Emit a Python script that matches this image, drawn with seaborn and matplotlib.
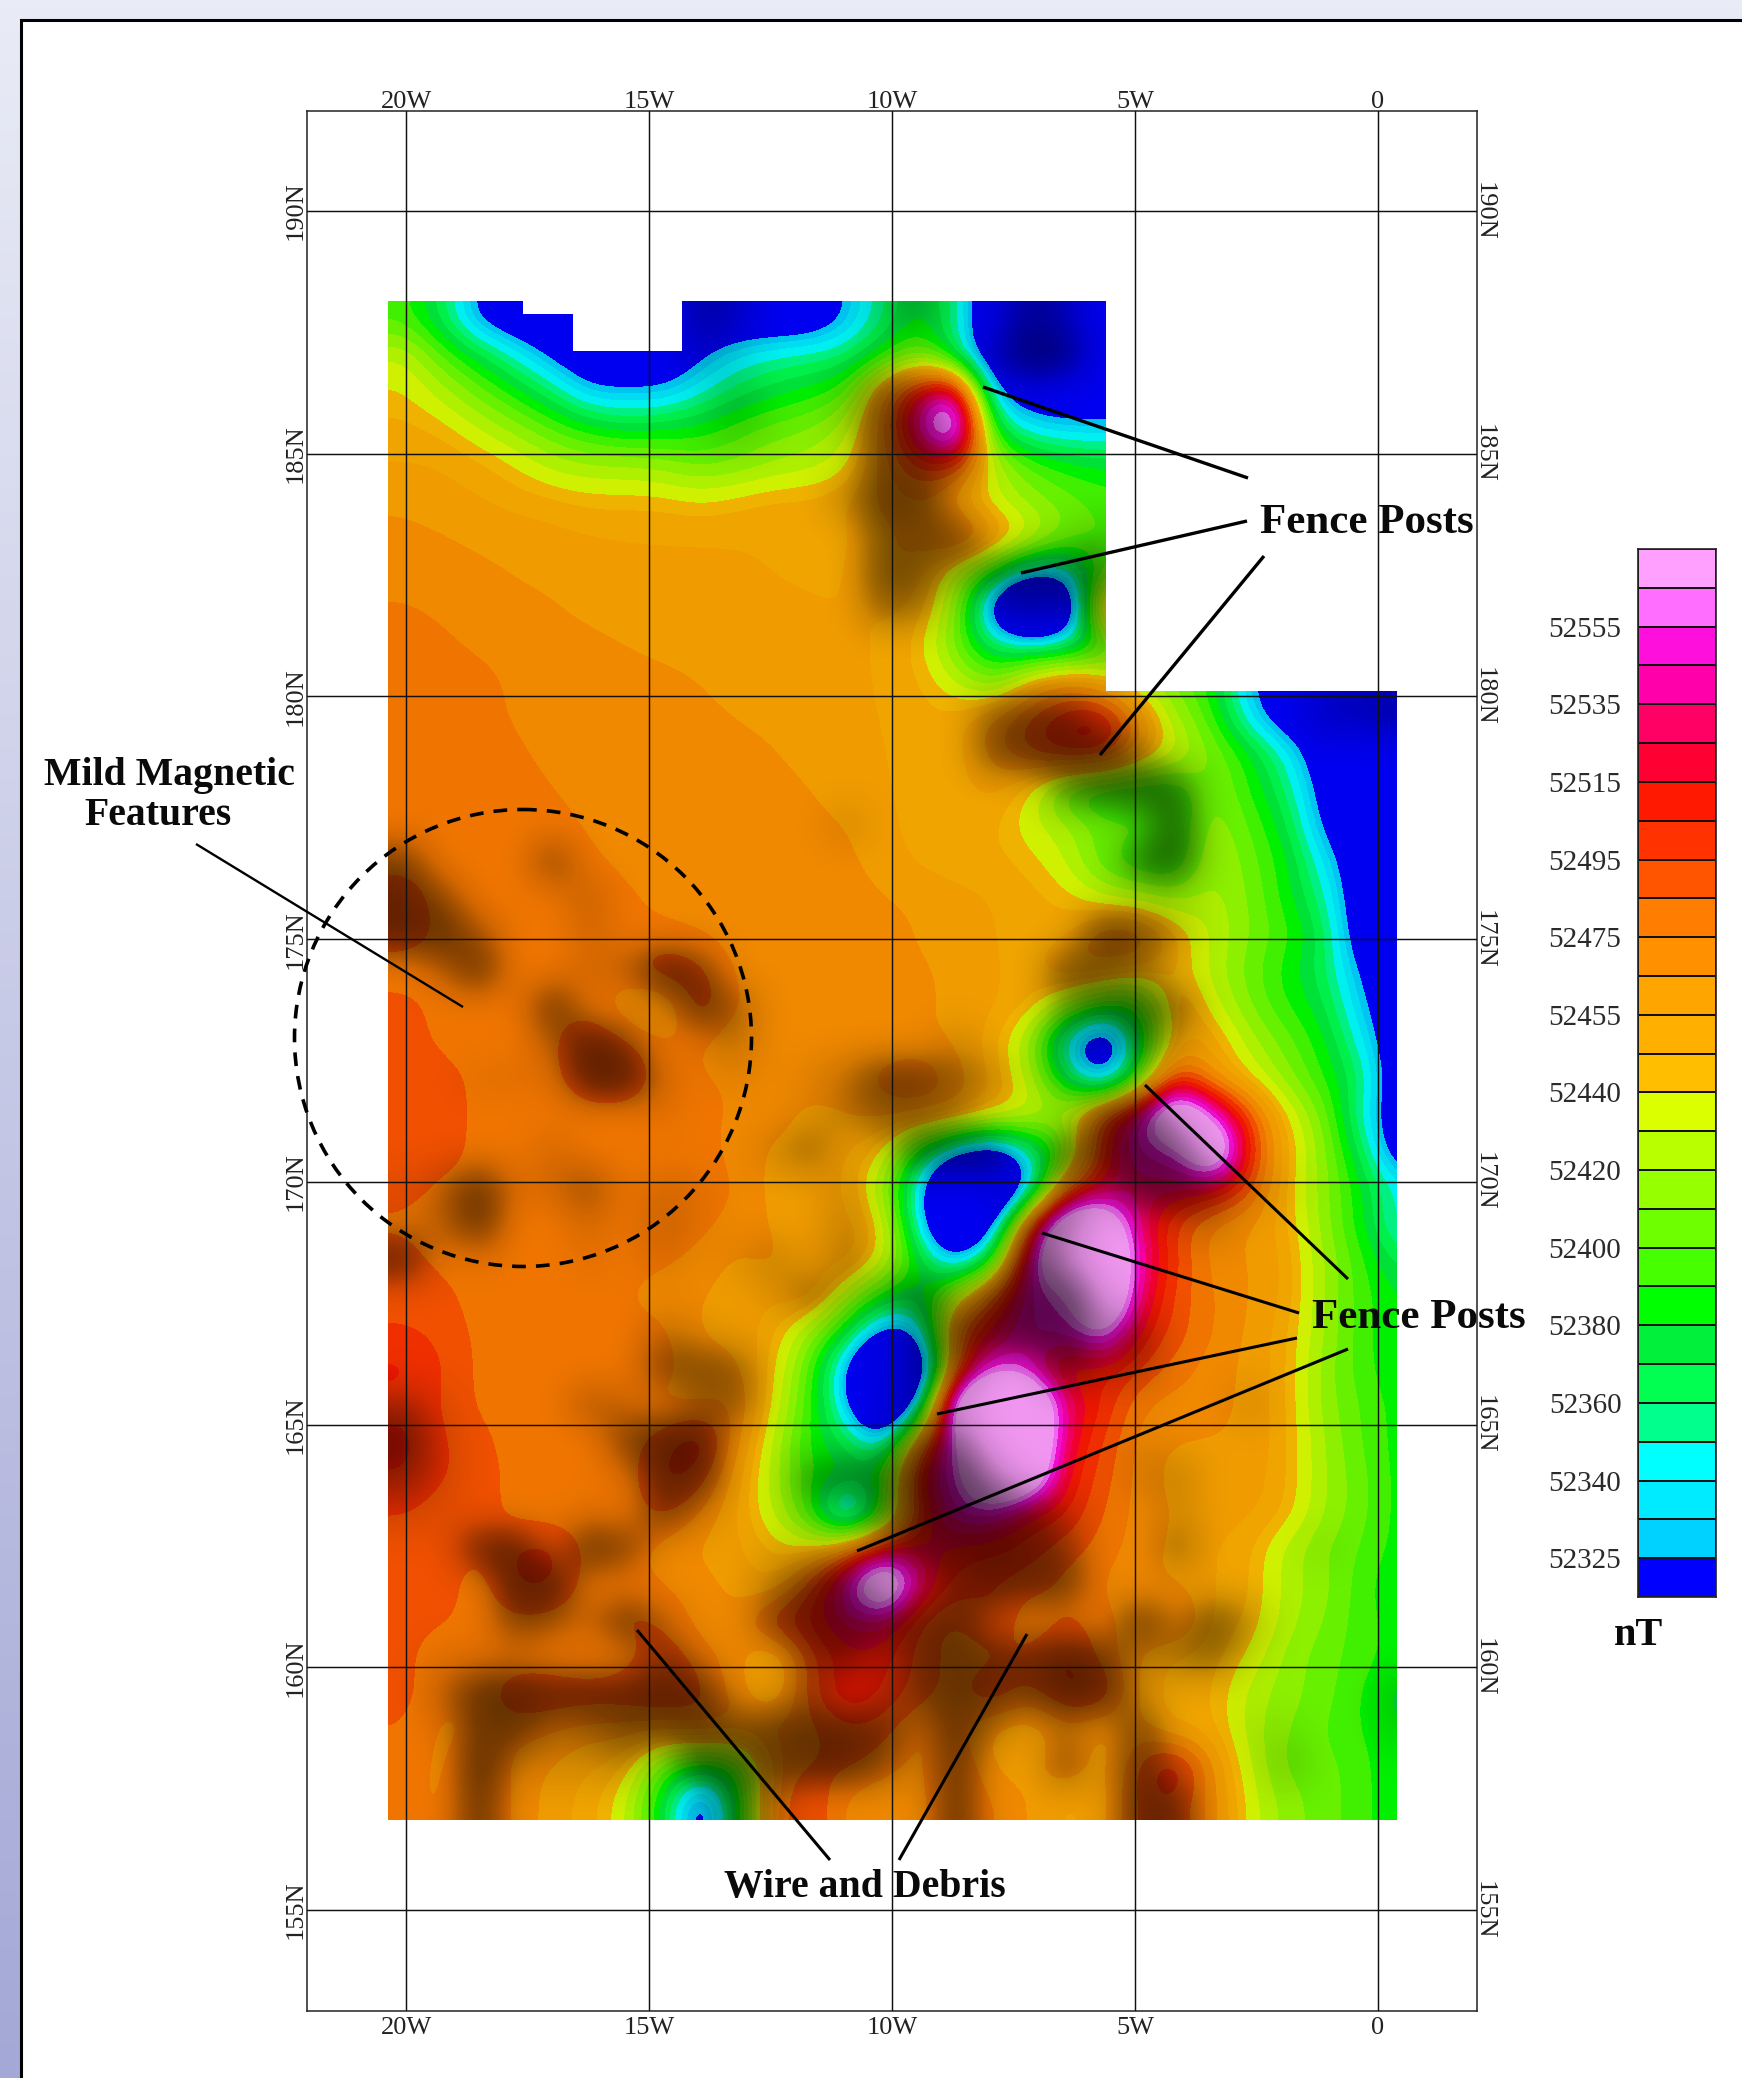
import numpy as np
import matplotlib
matplotlib.use('Agg')
import matplotlib.pyplot as plt
from matplotlib.colors import BoundaryNorm, LinearSegmentedColormap, ListedColormap
from matplotlib.patches import Circle, Polygon, Rectangle
from matplotlib.transforms import ScaledTranslation
import seaborn as sns

# legend bands, bottom to top
band_colors = ['#0000ff', '#00d2ff', '#00ebff', '#00ffff', '#00ff8c', '#00ff50', '#00f03c', '#00ff00',
               '#46ff00', '#6eff00', '#96ff00', '#b9ff00', '#dcff00', '#ffbe00', '#ffaf00', '#ffa500',
               '#ff9100', '#ff7d00', '#ff5500', '#ff3200', '#ff1900', '#ff0032', '#ff0064', '#ff00aa',
               '#ff0fdc', '#ff6eff', '#ffa0ff']
band_edges = [52325, 52332, 52340, 52350, 52360, 52370, 52380, 52390, 52400, 52410, 52420, 52430, 52440,
              52447, 52455, 52465, 52475, 52485, 52495, 52505, 52515, 52525, 52535, 52545, 52555, 52565]
legend_ticks = [52325, 52340, 52360, 52380, 52400, 52420, 52440, 52455, 52475, 52495, 52515, 52535, 52555]

# grid labels
east_ticks = [-20, -15, -10, -5, 0]
east_labels = ['20W', '15W', '10W', '5W', '0']
north_ticks = [190, 185, 180, 175, 170, 165, 160, 155]
north_labels = ['190N', '185N', '180N', '175N', '170N', '165N', '160N', '155N']

# total field, nT above 52000, north row first
NT_BASE = 52000
nt_rows = [
    [395,365,315,300,300,300,300,300,300,300,300,300,325,360,385,360,280,300,300,300,300,300,300,300,300,300,300,300],
    [432,400,375,345,315,300,300,300,320,340,350,355,360,385,410,360,280,290,300,300,300,300,300,300,300,300,300,300],
    [441,425,405,385,360,325,325,325,345,365,375,385,395,470,520,560,315,305,300,300,300,300,300,300,300,300,300,300],
    [450,445,430,415,400,385,375,380,385,395,405,410,425,470,550,620,375,335,330,330,330,330,330,330,330,330,330,330],
    [455,455,450,440,425,420,420,415,405,410,420,425,435,470,500,500,430,400,385,380,380,380,380,380,380,380,380,380],
    [463,458,456,452,450,445,445,445,440,445,450,450,455,470,475,455,430,415,405,395,395,395,395,395,395,395,395,395],
    [468,466,462,460,458,456,455,455,455,455,454,453,453,460,470,495,470,440,410,400,400,400,400,400,400,400,400,400],
    [472,470,468,464,462,460,458,457,457,456,455,454,453,470,460,425,390,340,340,400,400,400,400,400,400,400,400,400],
    [476,474,472,469,466,462,460,459,458,457,456,456,455,455,455,420,300,200,260,490,490,490,490,490,490,490,490,490],
    [478,476,474,472,470,468,465,463,462,460,458,457,456,455,445,405,360,350,355,385,425,405,385,340,300,300,300,300],
    [480,478,477,474,472,470,468,467,465,462,460,458,456,455,448,430,405,450,470,450,420,405,385,325,300,300,300,300],
    [482,480,477,474,472,470,469,468,467,465,463,460,457,455,450,450,470,490,505,515,470,420,395,335,300,300,300,300],
    [482,481,480,476,473,471,470,469,468,467,466,462,458,456,450,450,470,490,510,510,460,435,410,385,345,300,300,300],
    [482,481,480,478,475,472,471,470,469,468,467,466,460,456,452,450,460,440,390,375,380,385,415,390,360,310,300,300],
    [482,482,481,480,478,474,472,471,470,469,468,467,466,458,450,448,450,432,425,405,410,385,420,400,375,315,300,300],
    [482,481,480,480,480,476,474,472,471,470,469,468,467,462,452,450,450,445,430,400,385,385,425,405,385,340,300,300],
    [490,481,480,480,480,478,476,473,472,470,470,469,468,466,464,458,455,450,445,430,425,415,425,410,385,355,300,300],
    [492,482,480,480,480,480,478,476,474,471,470,469,468,467,465,460,455,452,450,480,480,450,430,410,395,370,300,300],
    [478,481,480,480,480,480,482,498,490,472,470,469,468,467,466,464,456,450,470,465,455,448,425,405,385,365,320,300],
    [490,480,480,480,482,480,465,455,498,474,471,470,468,467,466,464,456,450,420,390,385,465,435,410,390,375,330,300],
    [490,482,480,480,482,498,488,476,476,465,471,470,468,467,466,464,450,420,335,270,375,455,455,425,405,385,345,300],
    [492,490,482,480,480,498,498,478,476,474,470,468,470,480,490,470,455,430,370,310,395,505,460,440,415,390,365,300],
    [490,490,482,480,478,478,478,478,478,474,468,462,465,470,470,465,450,435,425,500,550,640,560,490,440,410,350,300],
    [490,490,482,480,480,480,478,478,478,472,462,465,455,445,380,330,300,350,395,510,550,550,640,500,450,415,370,300],
    [490,482,482,480,482,482,478,482,482,476,460,458,458,420,335,230,230,320,480,520,530,530,520,490,445,415,385,345],
    [482,480,482,480,478,480,478,488,480,470,465,455,460,445,340,230,310,500,620,610,530,490,470,465,450,415,385,340],
    [490,480,480,478,478,478,477,478,470,462,470,455,465,440,380,320,380,550,640,640,540,495,470,465,455,420,395,365],
    [492,490,478,478,476,476,476,470,465,462,455,470,425,385,370,430,490,550,550,640,530,490,475,465,455,420,395,380],
    [495,492,482,478,476,476,476,480,462,462,450,420,380,310,330,490,520,550,550,580,510,490,475,463,450,420,395,380],
    [510,495,482,478,476,475,476,480,470,470,445,400,320,230,260,490,560,540,495,510,495,480,470,462,450,415,395,380],
    [500,495,482,478,476,478,478,472,470,480,440,395,330,230,330,620,640,640,530,505,475,470,470,462,450,415,400,385],
    [510,495,490,478,476,478,480,490,510,470,430,385,370,330,470,570,640,640,520,495,470,465,465,462,450,420,400,385],
    [505,495,492,480,478,478,478,500,495,460,425,390,385,385,530,550,640,620,510,490,470,460,460,460,450,420,405,385],
    [495,490,490,480,478,478,478,490,475,455,430,395,300,380,500,550,550,510,505,485,470,465,458,458,448,420,405,385],
    [490,490,485,498,500,480,480,470,462,458,445,440,470,520,520,510,505,500,490,480,470,462,455,450,425,410,400,385],
    [490,490,478,498,498,478,478,475,470,462,450,490,550,640,530,500,495,490,480,475,465,465,455,450,425,415,395,380],
    [490,488,480,482,480,478,490,485,470,465,500,510,530,530,490,480,500,470,490,478,470,490,450,448,425,410,395,385],
    [490,472,478,478,476,472,477,495,480,470,445,490,510,510,490,480,480,490,500,480,465,450,450,440,415,405,395,385],
    [490,475,480,495,495,495,495,498,490,470,450,490,520,505,490,480,500,480,500,500,460,450,450,425,415,405,390,375],
    [485,470,478,480,475,470,470,470,480,478,480,480,490,490,470,480,460,455,470,460,470,450,450,425,410,400,390,380],
    [480,470,490,470,465,455,450,400,380,385,475,485,490,480,470,490,462,458,480,455,490,515,465,430,405,405,395,380],
    [478,472,490,472,460,450,435,375,295,375,480,500,470,465,470,490,475,465,450,460,490,495,470,435,415,405,395,380],
]

# relief shading, 0 none to 9 darkest, same cells as nt_rows
relief_rows = [
    '0000000043000240153000000000',
    '0000000031000100376000000000',
    '0000000003002640010000000000',
    '0000000013102760000000000000',
    '0000000000000765000000000000',
    '0000000000003880000000000000',
    '0000000000000667001300000000',
    '0000000000000763566600000000',
    '0000000000000540242600000000',
    '0000000000000000000400000000',
    '0000000000000000000000000233',
    '0000000000000000577210000334',
    '0000000000000000678840000000',
    '0000000000000000005787000000',
    '0000000000002000000018000000',
    '6000600000000000000078000000',
    '8500030000000000000001000000',
    '8840020000000000000873000000',
    '0380023960000000007540000000',
    '0000800184000000004776000000',
    '0000395013000002005072000000',
    '0011199201013775303020000000',
    '0000000100013543000671000000',
    '0000200000250176607796000000',
    '1381250210002000105288521000',
    '1380020310003000054002300000',
    '8010010201304000082000000000',
    '0000000000152372698100000000',
    '0000000310001047899350000000',
    '0000000665000146007340000000',
    '4100042045000141000000020000',
    '7200006990000165000010000000',
    '5200001880056699300023000000',
    '2100010720020589863002000000',
    '0088186000112478885005000100',
    '0009900000377116877000000000',
    '0006428300678768201082730000',
    '0111000620056278779724510000',
    '0389888981050368769820000003',
    '0177346676788728303070011002',
    '0092223087788518006082003000',
    '0080000007300008000087000000',
]


def px_box(left, top, right, bottom):
    return [left / 1742, 1 - bottom / 2078, (right - left) / 1742, (bottom - top) / 2078]


def nudge(label, dx, dy):
    label.set_transform(label.get_transform() + ScaledTranslation(dx / 100, -dy / 100, fig.dpi_scale_trans))


sns.set_theme(style='white')
plt.rcParams['font.family'] = ['Liberation Serif', 'DejaVu Serif']

fig = plt.figure(figsize=(17.42, 20.78), dpi=100)

# page background and frame
bg = fig.add_axes([0, 0, 1, 1], zorder=0)
page_cmap = LinearSegmentedColormap.from_list('page', ['#e9ebf6', '#a4a8d6'])
bg.imshow(np.linspace(0, 1, 256).reshape(-1, 1), cmap=page_cmap, aspect='auto', extent=(0, 1742, 2078, 0))
bg.add_patch(Rectangle((21, 20), 1800, 2200, facecolor='white', edgecolor='black', linewidth=2.2))
bg.set_xlim(0, 1742)
bg.set_ylim(2078, 0)
bg.axis('off')

# the map, banded by the legend levels with relief on top
nt_grid = NT_BASE + np.array(nt_rows, dtype=float)
relief_grid = np.array([[int(c) for c in row] for row in relief_rows], dtype=float)
map_cmap = ListedColormap(band_colors)
map_norm = BoundaryNorm([51000] + band_edges + [53500], map_cmap.N)
relief_cmap = LinearSegmentedColormap.from_list('relief', [(0, (0, 0, 0, 0.06)), (2 / 9, (0, 0, 0, 0.18)),
                                                           (4 / 9, (0, 0, 0, 0.36)), (6 / 9, (0, 0, 0, 0.52)),
                                                           (8 / 9, (0, 0, 0, 0.62)), (1, (0, 0, 0, 0.66))])

mp = fig.add_axes([0, 0, 1, 1], zorder=1)
mp.patch.set_alpha(0)
outline = Polygon([(388, 301), (523, 301), (523, 314), (573, 314), (573, 351), (682, 351), (682, 301),
                   (1106, 301), (1106, 691), (1397, 691), (1397, 1820), (388, 1820)],
                  closed=True, transform=mp.transData, facecolor='none', edgecolor='none')
mp.add_patch(outline)
extent = (387.7, 1414.3, 1820, 301)
field = mp.imshow(nt_grid, cmap=map_cmap, norm=map_norm, interpolation='bicubic', aspect='auto', extent=extent)
relief = mp.imshow(relief_grid, cmap=relief_cmap, vmin=0, vmax=9, interpolation='bicubic', aspect='auto', extent=extent)
field.set_clip_path(outline)
relief.set_clip_path(outline)
mp.set_xlim(0, 1742)
mp.set_ylim(2078, 0)
mp.axis('off')

# survey grid
gr = fig.add_axes(px_box(307, 111, 1477, 2010.5), zorder=2)
gr.patch.set_alpha(0)
gr.set_xlim(-20 - 99 / 48.6, 99 / 48.6)
gr.set_ylim(155 - 100.5 / 48.54, 190 + 100 / 48.54)
gr.set_xticks(east_ticks, east_labels)
gr.set_yticks(north_ticks, north_labels)
gr.grid(True, color='#111111', linewidth=1.05)
gr.set_axisbelow(False)
gr.tick_params(axis='both', length=0, labelsize=19, pad=1, colors='#222222',
               top=True, labeltop=True, bottom=True, labelbottom=True,
               left=True, labelleft=True, right=True, labelright=True)
for tick in gr.xaxis.get_major_ticks():
    nudge(tick.label1, 0, 5)
    nudge(tick.label2, 0, 3)
for tick in gr.yaxis.get_major_ticks():
    tick.label1.set_rotation(90)
    tick.label1.set_va('center')
    tick.label2.set_rotation(-90)
    tick.label2.set_va('center')
    nudge(tick.label1, 1, 0)
    nudge(tick.label2, -6, 0)
for side in gr.spines.values():
    side.set_visible(True)
    side.set_color('#222222')
    side.set_linewidth(1.1)

# legend
leg = fig.add_axes(px_box(1638, 549, 1716, 1597), zorder=2)
sns.heatmap(np.arange(len(band_colors) - 1, -1, -1).reshape(-1, 1), cmap=map_cmap, vmin=-0.5,
            vmax=len(band_colors) - 0.5, linewidths=1.1, linecolor='#111111', cbar=False,
            xticklabels=False, ax=leg)
leg.set_yticks([len(band_colors) - 1 - band_edges.index(v) for v in legend_ticks], legend_ticks)
leg.tick_params(axis='y', length=0, pad=12, labelsize=21, labelrotation=0, colors='#2a2a2a')
for tick in leg.yaxis.get_major_ticks():
    nudge(tick.label1, 0, 3)
for side in leg.spines.values():
    side.set_visible(True)
    side.set_color('#222222')
    side.set_linewidth(1.2)

# callouts
top = fig.add_axes([0, 0, 1, 1], zorder=3)
top.patch.set_alpha(0)
top.set_xlim(0, 1742)
top.set_ylim(2078, 0)
top.axis('off')

callouts = [
    ((983, 387), (1248, 478), 2.4), ((1021, 573), (1247, 521), 2.4), ((1264, 556), (1100, 755), 2.4),
    ((1145, 1085), (1348, 1279), 2.2), ((1042, 1233), (1299, 1313), 2.2), ((937, 1414), (1297, 1338), 2.2),
    ((1348, 1349), (857, 1551), 2.2), ((637, 1630), (830, 1860), 2.2), ((1027, 1634), (899, 1860), 2.2),
    ((196, 844), (463, 1007), 1.7),
]
for start, end, width in callouts:
    top.plot([start[0], end[0]], [start[1], end[1]], color='black', linewidth=width, solid_capstyle='butt')

top.add_patch(Circle((523, 1038), 228.5, fill=False, edgecolor='black', linewidth=2.6, linestyle=(0, (3.8, 2.8))))

note = dict(fontweight='bold', color='#0a0a0a')
top.text(1260, 533, 'Fence Posts', ha='left', va='baseline', fontsize=31, **note)
top.text(1312, 1328, 'Fence Posts', ha='left', va='baseline', fontsize=31, **note)
top.text(724, 1897, 'Wire and Debris', ha='left', va='baseline', fontsize=28.6, **note)
top.text(169, 785, 'Mild Magnetic', ha='center', va='baseline', fontsize=28.6, **note)
top.text(158, 825, 'Features', ha='center', va='baseline', fontsize=28.6, **note)
top.text(1638, 1645, 'nT', ha='center', va='baseline', fontsize=29, **note)

fig.savefig('out.png', dpi=100)
